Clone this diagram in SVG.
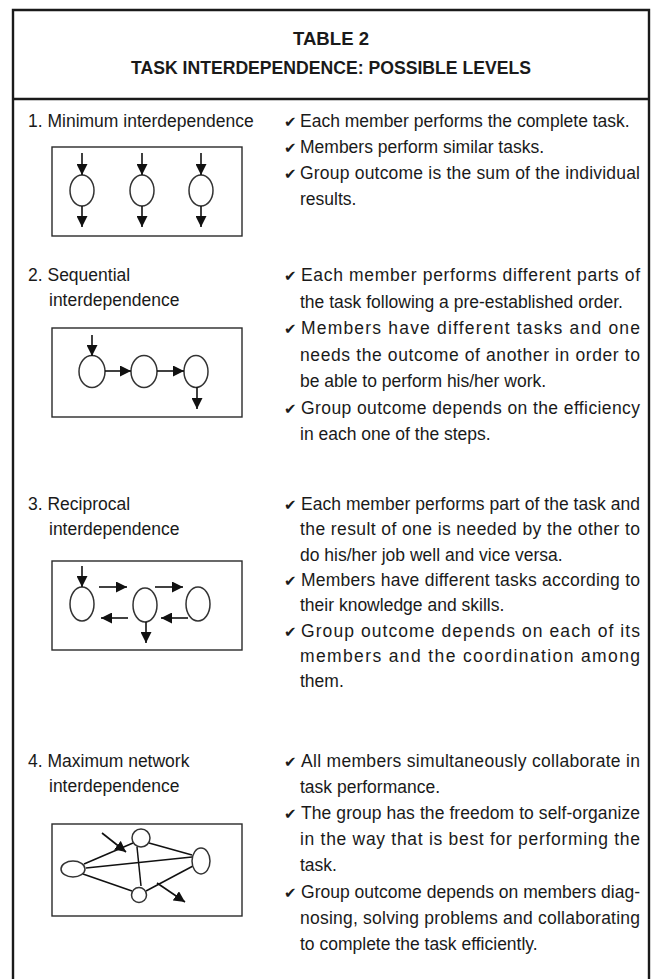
<svg xmlns="http://www.w3.org/2000/svg" width="653" height="979" viewBox="0 0 653 979">
<style>
.frame{fill:none;stroke:#1a1a1a;stroke-width:2.4}
.title{font-family:"Liberation Sans",Arial,sans-serif;font-weight:bold;font-size:18px;fill:#1a1a1a;text-anchor:middle}
.t{font-family:"Liberation Sans",Arial,sans-serif;font-size:17.5px;fill:#1a1a1a}
.chk{font-family:"DejaVu Sans",sans-serif;font-size:15px;fill:#1a1a1a}
.box{fill:#fff;stroke:#2a2a2a;stroke-width:1.4}
.node{fill:#fff;stroke:#333;stroke-width:1.5}
.edge{fill:none;stroke:#111;stroke-width:1.5}
.arr{fill:none;stroke:#111;stroke-width:1.6;marker-end:url(#ah)}
</style>
<defs>
<marker id="ah" viewBox="0 0 10 10" refX="10" refY="5" markerWidth="11" markerHeight="11" markerUnits="userSpaceOnUse" orient="auto">
<path d="M0,0 L10,5 L0,10 z" fill="#111"/>
</marker>
</defs>
<rect width="653" height="979" fill="#fff"/>
<g id="frame">
<path class="frame" d="M13,979 V10 H649 V979"/>
<line class="frame" x1="13" y1="99" x2="649" y2="99"/>
</g>
<g id="header">
<text class="title" x="331" y="45" textLength="76" lengthAdjust="spacingAndGlyphs">TABLE 2</text>
<text class="title" x="331" y="74" textLength="400" lengthAdjust="spacingAndGlyphs">TASK INTERDEPENDENCE: POSSIBLE LEVELS</text>
</g>

<g id="level1">
<text class="t" x="28" y="127">1. Minimum interdependence</text>
<rect class="box" x="52" y="147" width="190" height="89"/>
<g id="l1-nodes">
<ellipse class="node" cx="82" cy="190.5" rx="12" ry="15.5"/>
<ellipse class="node" cx="142" cy="190.5" rx="12" ry="15.5"/>
<ellipse class="node" cx="201" cy="190.5" rx="12" ry="15.5"/>
</g>
<g id="l1-connectors">
<line class="arr" x1="82" y1="153" x2="82" y2="175"/>
<line class="arr" x1="82" y1="206" x2="82" y2="227"/>
<line class="arr" x1="142" y1="153" x2="142" y2="175"/>
<line class="arr" x1="142" y1="206" x2="142" y2="227"/>
<line class="arr" x1="201" y1="153" x2="201" y2="175"/>
<line class="arr" x1="201" y1="206" x2="201" y2="227"/>
</g>
<g id="l1-text">
<text class="chk" x="284" y="127">✔</text><text class="t" x="300" y="127">Each member performs the complete task.</text>
<text class="chk" x="284" y="153">✔</text><text class="t" x="300" y="153">Members perform similar tasks.</text>
<text class="chk" x="284" y="179">✔</text><text class="t" x="300" y="179" textLength="340" lengthAdjust="spacing">Group outcome is the sum of the individual</text>
<text class="t" x="300" y="205">results.</text>
</g>
</g>

<g id="level2">
<text class="t" x="28" y="281">2. Sequential</text>
<text class="t" x="49" y="306">interdependence</text>
<rect class="box" x="52" y="328" width="190" height="89"/>
<g id="l2-nodes">
<ellipse class="node" cx="92" cy="371.5" rx="13" ry="16"/>
<ellipse class="node" cx="144" cy="371.5" rx="13" ry="16"/>
<ellipse class="node" cx="196" cy="371.5" rx="12" ry="16"/>
</g>
<g id="l2-connectors">
<line class="arr" x1="92" y1="335" x2="92" y2="356"/>
<line class="arr" x1="105" y1="371" x2="131" y2="371"/>
<line class="arr" x1="157" y1="371" x2="184" y2="371"/>
<line class="arr" x1="197" y1="387" x2="197" y2="409"/>
</g>
<g id="l2-text">
<text class="chk" x="284" y="281">✔</text><text class="t" x="301" y="281" textLength="339" lengthAdjust="spacing">Each member performs different parts of</text>
<text class="t" x="300" y="307.5">the task following a pre-established order.</text>
<text class="chk" x="284" y="334">✔</text><text class="t" x="301" y="334" textLength="339" lengthAdjust="spacing">Members have different tasks and one</text>
<text class="t" x="300" y="360.5" textLength="340" lengthAdjust="spacing">needs the outcome of another in order to</text>
<text class="t" x="300" y="387">be able to perform his/her work.</text>
<text class="chk" x="284" y="413.5">✔</text><text class="t" x="301" y="413.5" textLength="339" lengthAdjust="spacing">Group outcome depends on the efficiency</text>
<text class="t" x="300" y="440">in each one of the steps.</text>
</g>
</g>

<g id="level3">
<text class="t" x="28" y="510">3. Reciprocal</text>
<text class="t" x="49" y="535">interdependence</text>
<rect class="box" x="52" y="561" width="190" height="89"/>
<g id="l3-nodes">
<ellipse class="node" cx="82" cy="604" rx="12" ry="17"/>
<ellipse class="node" cx="145" cy="605" rx="12" ry="17"/>
<ellipse class="node" cx="198" cy="604" rx="12" ry="17"/>
</g>
<g id="l3-connectors">
<line class="arr" x1="82" y1="566" x2="82" y2="587"/>
<line class="arr" x1="99" y1="587" x2="127" y2="587"/>
<line class="arr" x1="128" y1="618" x2="101" y2="618"/>
<line class="arr" x1="155" y1="587" x2="183" y2="587"/>
<line class="arr" x1="188" y1="618" x2="161" y2="618"/>
<line class="arr" x1="146" y1="622" x2="146" y2="643"/>
</g>
<g id="l3-text">
<text class="chk" x="284" y="510">✔</text><text class="t" x="301" y="510" textLength="339" lengthAdjust="spacing">Each member performs part of the task and</text>
<text class="t" x="300" y="535.3" textLength="340" lengthAdjust="spacing">the result of one is needed by the other to</text>
<text class="t" x="300" y="560.6">do his/her job well and vice versa.</text>
<text class="chk" x="284" y="585.9">✔</text><text class="t" x="301" y="585.9" textLength="339" lengthAdjust="spacing">Members have different tasks according to</text>
<text class="t" x="300" y="611.2">their knowledge and skills.</text>
<text class="chk" x="284" y="636.5">✔</text><text class="t" x="301" y="636.5" textLength="339" lengthAdjust="spacing">Group outcome depends on each of its</text>
<text class="t" x="300" y="661.8" textLength="340" lengthAdjust="spacing">members and the coordination among</text>
<text class="t" x="300" y="687">them.</text>
</g>
</g>

<g id="level4">
<text class="t" x="28" y="767">4. Maximum network</text>
<text class="t" x="49" y="792">interdependence</text>
<rect class="box" x="52" y="824" width="190" height="92"/>
<g id="l4-connectors">
<line class="edge" x1="84" y1="864" x2="133" y2="843"/>
<line class="edge" x1="86" y1="868" x2="192" y2="857"/>
<line class="edge" x1="83" y1="874" x2="132" y2="891"/>
<line class="edge" x1="149" y1="843" x2="192" y2="855"/>
<line class="edge" x1="146" y1="891" x2="193" y2="866"/>
<line class="edge" x1="137" y1="847" x2="141" y2="886"/>
<line class="arr" x1="102" y1="833" x2="126" y2="852"/>
<line class="arr" x1="157" y1="883" x2="185" y2="902"/>
</g>
<g id="l4-nodes">
<ellipse class="node" cx="73" cy="869" rx="12" ry="8"/>
<circle class="node" cx="141" cy="838" r="9"/>
<ellipse class="node" cx="201" cy="861" rx="9" ry="13"/>
<circle class="node" cx="139" cy="895" r="7.5"/>
</g>
<g id="l4-text">
<text class="chk" x="284" y="767">✔</text><text class="t" x="301" y="767" textLength="339" lengthAdjust="spacing">All members simultaneously collaborate in</text>
<text class="t" x="300" y="793">task performance.</text>
<text class="chk" x="284" y="819">✔</text><text class="t" x="301" y="819" textLength="339" lengthAdjust="spacing">The group has the freedom to self-organize</text>
<text class="t" x="300" y="845" textLength="340" lengthAdjust="spacing">in the way that is best for performing the</text>
<text class="t" x="300" y="871">task.</text>
<text class="chk" x="284" y="898">✔</text><text class="t" x="301" y="898" textLength="339" lengthAdjust="spacing">Group outcome depends on members diag-</text>
<text class="t" x="300" y="924" textLength="340" lengthAdjust="spacing">nosing, solving problems and collaborating</text>
<text class="t" x="300" y="950">to complete the task efficiently.</text>
</g>
</g>
</svg>
